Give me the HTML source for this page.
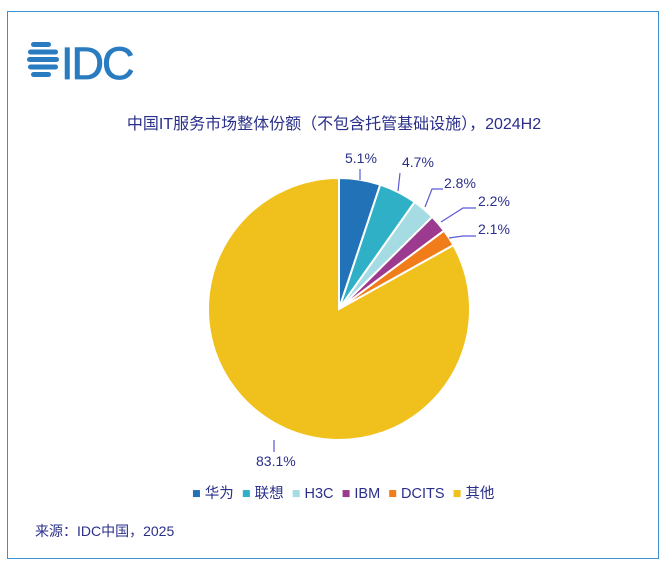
<!DOCTYPE html>
<html><head><meta charset="utf-8"><style>
body{margin:0;width:668px;height:569px;background:#fff;overflow:hidden;font-family:"Liberation Sans","Noto Sans CJK SC",sans-serif;}
.box{position:absolute;left:7px;top:11px;width:652px;height:548px;border:1.5px solid #3a8fd0;box-sizing:border-box;}
.t{position:absolute;color:#2a2f8a;white-space:nowrap;}
</style></head><body>
<div class="box"></div>
<svg width="668" height="569" style="position:absolute;left:0;top:0">
<g fill="#2a7cc1">
<rect x="31" y="42" width="20" height="5" rx="2.5"/>
<rect x="28" y="49.5" width="30" height="5" rx="2.5"/>
<rect x="27" y="57" width="32" height="5" rx="2.5"/>
<rect x="28" y="64.5" width="30" height="5" rx="2.5"/>
<rect x="31" y="72" width="20" height="5" rx="2.5"/>
</g>
<text x="61" y="79" font-family="Liberation Sans" font-size="45" fill="#2a7cc1" stroke="#2a7cc1" stroke-width="0.8" letter-spacing="-2">IDC</text>
<g id="pie"></g>
</svg>
<div class="t" style="left:0;width:668px;text-align:center;top:110px;font-size:16px;">中国IT服务市场整体份额（不包含托管基础设施），2024H2</div>
<div class="t" style="left:345px;top:150px;font-size:14px;">5.1%</div>
<div class="t" style="left:402px;top:154px;font-size:14px;">4.7%</div>
<div class="t" style="left:444px;top:175px;font-size:14px;">2.8%</div>
<div class="t" style="left:478px;top:193px;font-size:14px;">2.2%</div>
<div class="t" style="left:478px;top:221px;font-size:14px;">2.1%</div>
<div class="t" style="left:256px;top:453px;font-size:14px;">83.1%</div>
<div class="t" style="left:192px;top:482px;font-size:14.5px;">
<span style="color:#2272b8">■</span> 华为&nbsp;&nbsp;<span style="color:#2fb0c6">■</span> 联想&nbsp;&nbsp;<span style="color:#a5dbe3">■</span> H3C&nbsp;&nbsp;<span style="color:#9b3a8f">■</span> IBM&nbsp;&nbsp;<span style="color:#f07d1a">■</span> DCITS&nbsp;&nbsp;<span style="color:#f0c01c">■</span> 其他</div>
<div class="t" style="left:35px;top:521px;font-size:14px;">来源：IDC中国，2025</div>
<script>
var cx=339,cy=309,r=131;
var d=[[5.1,"#2272b8"],[4.7,"#2fb0c6"],[2.8,"#a5dbe3"],[2.2,"#9b3a8f"],[2.1,"#f07d1a"],[83.1,"#f0c01c"]];
var tot=100,a=0,s="";
function p(ang,rr){return [cx+rr*Math.sin(ang),cy-rr*Math.cos(ang)];}
d.forEach(function(x){var a0=a*2*Math.PI/tot;a+=x[0];var a1=a*2*Math.PI/tot;
var P0=p(a0,r),P1=p(a1,r),lg=(a1-a0)>Math.PI?1:0;
s+='<path d="M'+cx+','+cy+' L'+P0+' A'+r+','+r+' 0 '+lg+' 1 '+P1+' Z" fill="'+x[1]+'" stroke="#fff" stroke-width="2"/>';});
var L='stroke="#5b5bd6" stroke-width="1.2" fill="none"';
s+='<polyline '+L+' points="360,180 360,169"/>';
s+='<polyline '+L+' points="398,191 400,173"/>';
s+='<polyline '+L+' points="425,207 432,189 443,189"/>';
s+='<polyline '+L+' points="441,222 463,208 476,208"/>';
s+='<polyline '+L+' points="449,238 463,236 476,236"/>';
s+='<polyline '+L+' points="274,440 274,452"/>';
document.getElementById("pie").innerHTML=s;
</script>
</body></html>
